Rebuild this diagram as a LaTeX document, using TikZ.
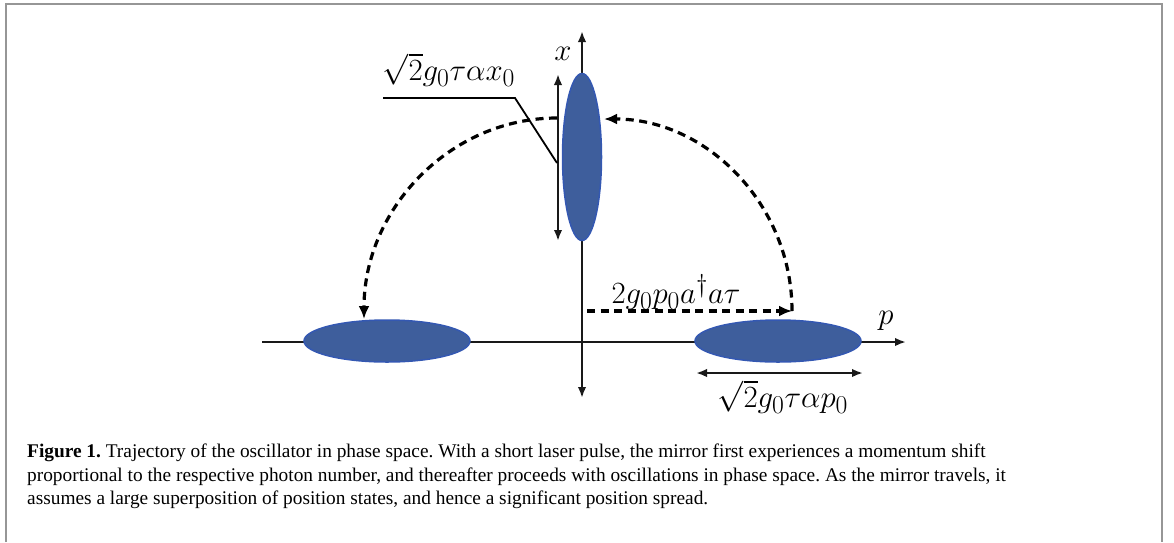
\documentclass[tikz,border=0pt]{standalone}
\usepackage{fontspec}
\newfontfamily\capfont{Liberation Serif}
\usetikzlibrary{arrows.meta,shapes.geometric}
\definecolor{blobfill}{RGB}{62,94,156}
\definecolor{blobedge}{RGB}{52,88,178}
\definecolor{framegray}{RGB}{150,150,150}
\tikzset{
  blob/.style={ellipse, inner sep=0pt, fill=blobfill, draw=blobedge, line width=1.5pt},
  axisline/.style={line width=2.2pt, draw=black!90},
  tipA/.style={-{Latex[length=11pt,width=8.5pt]}},
  dimline/.style={line width=2.2pt, draw=black!90, {Latex[length=11pt,width=8.5pt]}-{Latex[length=11pt,width=8.5pt]}},
  dashline/.style={line width=3.2pt, dash pattern=on 8pt off 5.5pt, -{Latex[length=13pt,width=11pt]}},
  mathlbl/.style={inner sep=0pt, font=\fontsize{24.88}{30}\selectfont, scale=1.24, transform shape},
}
\begin{document}
\begin{tikzpicture}[x=1pt,y=-1pt]
\useasboundingbox (0,0) rectangle (1174,542);
% frame
\draw[framegray, line width=2pt] (5.5,542) -- (5.5,3.5) -- (1162,3.5) -- (1162,542);
% axes
\coordinate (pL) at (262,342);
\coordinate (pR) at (906,342);
\coordinate (xB) at (582,398);
\coordinate (xT) at (582,31);
\draw[axisline, tipA] (pL) -- (pR);
\draw[axisline, {Latex[length=11pt,width=8.5pt]}-{Latex[length=11pt,width=8.5pt]}] (xB) -- (xT);
\node[mathlbl] (plabel) at (886,321) {$p$};
\node[mathlbl] (xlabel) at (563,54) {$x$};
% ellipses
\node[blob, minimum width=39pt, minimum height=167pt] (ex) at (582,157) {};
\node[blob, minimum width=166pt, minimum height=42pt] (eL) at (387,341) {};
\node[blob, minimum width=166pt, minimum height=42pt] (eR) at (778,341) {};
% dimension arrows
\coordinate (dxT) at (558,74);
\coordinate (dxB) at (558,241);
\draw[dimline] (dxB) -- (dxT);
\coordinate (dpL) at (696,373);
\coordinate (dpR) at (863,373);
\draw[dimline] (dpL) -- (dpR);
\node[mathlbl] (lblp) at (783,397) {$\sqrt{2}g_0\tau\alpha p_0$};
% x-width label with leader
\node[mathlbl] (lblx) at (449,70) {$\sqrt{2}g_0\tau\alpha x_0$};
\coordinate (ldA) at (383,98);
\coordinate (ldB) at (515,98);
\coordinate (ldC) at (557,163);
\draw[line width=1.8pt] (ldA) -- (ldB) -- (ldC);
% momentum shift
\coordinate (shS) at (587,311);
\coordinate (shE) at (792,311);
\draw[dashline] (shS) -- (shE);
\node[mathlbl] (lblshift) at (676,292) {$2g_0p_0a^\dagger a\tau$};
% rotation arcs
\coordinate (arR0) at (792,311);
\coordinate (arR1) at (604,119);
\draw[dashline] (arR0) .. controls +(0,-106) and +(103,0) .. (arR1);
\coordinate (arL0) at (557,118);
\coordinate (arL1) at (364,319);
\draw[dashline] (arL0) .. controls +(-107,0) and +(0,-110) .. (arL1);
% caption
\node[anchor=north west, inner sep=0pt, align=left, font=\capfont\fontsize{19.35}{23.5}\selectfont\frenchspacing] (cap) at (27,444)
{\textbf{Figure 1.} Trajectory of the oscillator in phase space. With a short laser pulse, the mirror first experiences a momentum shift\\
proportional to the respective photon number, and thereafter proceeds with oscillations in phase space. As the mirror travels, it\\
assumes a large superposition of position states, and hence a significant position spread.};
\end{tikzpicture}
\end{document}
